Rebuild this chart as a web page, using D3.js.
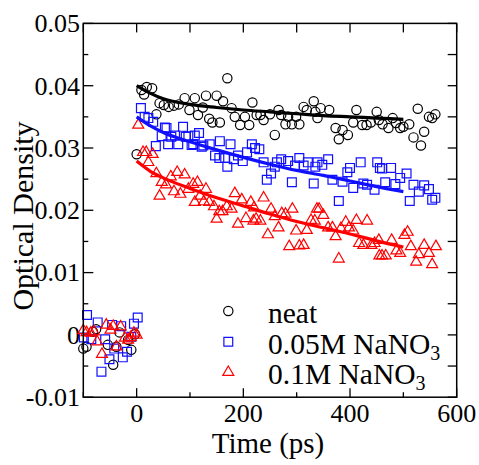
<!DOCTYPE html>
<html>
<head>
<meta charset="utf-8">
<script src="https://cdn.jsdelivr.net/npm/d3@7"></script>
<style>
  body { margin: 0; background: #fff; }
  svg text { font-family: "Liberation Serif", "Times New Roman", serif; fill: #000; }
  .frame { fill: none; stroke: #000; stroke-width: 1.5; }
  .tick-line { stroke: #000; stroke-width: 1.3; }
</style>
</head>
<body>
<div id="chart"></div>
<script>
// time (ps), optical density
var neat = [
  [-100, -0.0022], [-94, -0.0019], [-82, 0.0005], [-76, 0.0009], [-54, -0.0016], [-44, -0.0048],
  [-38, -0.0019], [-32, 0.0004], [-16, -0.0008], [-10, -0.0024], [-3, 0.0001],
  [0, 0.0290], [9, 0.0393], [14, 0.0386], [19, 0.0398], [29, 0.0396], [37, 0.0354], [43, 0.0372],
  [51, 0.0369], [60, 0.0366], [70, 0.0368], [79, 0.0370], [90, 0.0380], [99, 0.0361], [109, 0.0380],
  [115, 0.0353], [124, 0.0365], [130, 0.0384], [136, 0.0347], [142, 0.0341], [150, 0.0384],
  [156, 0.0341], [162, 0.0375], [170, 0.0412], [178, 0.0364], [184, 0.0350], [194, 0.0337],
  [203, 0.0350], [211, 0.0337], [217, 0.0373], [225, 0.0353], [232, 0.0353], [238, 0.0345],
  [250, 0.0354], [259, 0.0321], [266, 0.0361], [271, 0.0353], [279, 0.0338], [284, 0.0350],
  [291, 0.0338], [299, 0.0350], [305, 0.0338], [313, 0.0366], [319, 0.0361], [332, 0.0375],
  [335, 0.0358], [339, 0.0348], [345, 0.0364], [361, 0.0361], [373, 0.0332], [379, 0.0314],
  [386, 0.0329], [396, 0.0321], [406, 0.0341], [412, 0.0361], [423, 0.0337], [431, 0.0337],
  [439, 0.0341], [450, 0.0358], [454, 0.0345], [461, 0.0338], [472, 0.0332], [480, 0.0348],
  [486, 0.0340], [494, 0.0332], [500, 0.0334], [511, 0.0338], [519, 0.0317], [527, 0.0363],
  [533, 0.0304], [539, 0.0326], [548, 0.0350], [554, 0.0348], [560, 0.0354]
];
var nitrate005 = [
  [-99, -0.0004], [-93, 0.0032], [-85, -0.0007], [-73, 0.0020], [-66, -0.0059], [-59, -0.0007],
  [-51, -0.0039], [-46, 0.0016], [-42, -0.0022], [-29, 0.0014], [-26, -0.0036], [-18, -0.0027],
  [-10, -0.0003], [-5, 0.0018], [2, 0.0028],
  [8, 0.0364], [15, 0.0350], [22, 0.0348], [31, 0.0342], [36, 0.0303], [47, 0.0319], [53, 0.0333],
  [56, 0.0332], [59, 0.0306], [65, 0.0318], [72, 0.0320], [78, 0.0306], [87, 0.0334], [92, 0.0318],
  [97, 0.0319], [103, 0.0305], [106, 0.0306], [109, 0.0320], [117, 0.0324], [122, 0.0302],
  [125, 0.0304], [137, 0.0306], [147, 0.0288], [155, 0.0284], [156, 0.0311], [166, 0.0284],
  [170, 0.0270], [176, 0.0306], [182, 0.0282], [190, 0.0288], [199, 0.0279], [207, 0.0293],
  [216, 0.0306], [222, 0.0300], [230, 0.0298], [238, 0.0277], [244, 0.0249], [252, 0.0259],
  [259, 0.0270], [263, 0.0277], [271, 0.0282], [284, 0.0279], [291, 0.0245], [297, 0.0272],
  [305, 0.0284], [313, 0.0272], [321, 0.0277], [332, 0.0243], [335, 0.0270], [339, 0.0277],
  [348, 0.0273], [359, 0.0282], [367, 0.0249], [379, 0.0215], [386, 0.0246], [395, 0.0261],
  [400, 0.0268], [406, 0.0236], [420, 0.0277], [425, 0.0243], [432, 0.0241], [446, 0.0233],
  [451, 0.0277], [456, 0.0268], [460, 0.0267], [466, 0.0245], [477, 0.0268], [485, 0.0242],
  [494, 0.0252], [506, 0.0259], [512, 0.0215], [519, 0.0241], [529, 0.0230], [539, 0.0240],
  [548, 0.0234], [554, 0.0217], [560, 0.0220]
];
var nitrate01 = [
  [-100, 0.0007], [-94, 0.0004], [-86, 0.0003], [-80, 0.0005], [-74, -0.0011], [-65, -0.0031],
  [-57, 0.0016], [-49, 0.0008], [-44, 0.0014], [-38, -0.0019], [-30, 0.0013], [-22, -0.0005],
  [-16, -0.0008], [-11, -0.0004], [-5, 0.0003], [0, 0.0000],
  [3, 0.0337], [12, 0.0293], [18, 0.0293], [22, 0.0277], [30, 0.0290], [37, 0.0259], [43, 0.0223],
  [47, 0.0245], [55, 0.0241], [64, 0.0254], [70, 0.0230], [76, 0.0261], [82, 0.0226], [90, 0.0257],
  [97, 0.0234], [106, 0.0242], [109, 0.0213], [114, 0.0245], [119, 0.0223], [126, 0.0214],
  [130, 0.0234], [136, 0.0213], [145, 0.0206], [150, 0.0186], [155, 0.0198], [161, 0.0198],
  [169, 0.0206], [178, 0.0202], [184, 0.0227], [190, 0.0178], [197, 0.0217], [205, 0.0187],
  [214, 0.0213], [219, 0.0183], [220, 0.0204], [224, 0.0186], [232, 0.0183], [238, 0.0220],
  [246, 0.0161], [252, 0.0202], [259, 0.0190], [266, 0.0172], [272, 0.0195], [279, 0.0194],
  [286, 0.0142], [292, 0.0202], [299, 0.0167], [305, 0.0143], [313, 0.0144], [319, 0.0168],
  [327, 0.0184], [334, 0.0183], [338, 0.0202], [342, 0.0202], [350, 0.0192], [359, 0.0172],
  [367, 0.0172], [373, 0.0158], [379, 0.0122], [383, 0.0171], [392, 0.0181], [398, 0.0172],
  [406, 0.0167], [412, 0.0184], [417, 0.0147], [425, 0.0144], [432, 0.0183], [440, 0.0144],
  [446, 0.0147], [454, 0.0152], [455, 0.0127], [460, 0.0127], [467, 0.0127], [478, 0.0152],
  [487, 0.0135], [494, 0.0131], [502, 0.0160], [508, 0.0165], [514, 0.0142], [524, 0.0117],
  [529, 0.0129], [539, 0.0144], [548, 0.0131], [554, 0.0113], [561, 0.0142]
];

// fitted decays
var fitTimes = [0, 25, 50, 100, 150, 200, 250, 300, 350, 400, 450, 500];
var neatFit = [0.0400, 0.0388, 0.0379, 0.0370, 0.0365, 0.0361, 0.0358, 0.0355, 0.0352, 0.0350, 0.0348, 0.0346];
var nitrate005Fit = [0.0350, 0.0336, 0.0325, 0.0310, 0.0297, 0.0285, 0.0274, 0.0264, 0.0256, 0.0247, 0.0238, 0.0230];
var nitrate01Fit = [0.0279, 0.0263, 0.0252, 0.0235, 0.0220, 0.0207, 0.0194, 0.0182, 0.0172, 0.0162, 0.0151, 0.0141];

var xTicks = [-100, 0, 100, 200, 300, 400, 500, 600];
var xLabels = [0, 200, 400, 600];
var yTicks = [-0.01, -0.005, 0, 0.005, 0.01, 0.015, 0.02, 0.025, 0.03, 0.035, 0.04, 0.045, 0.05];
var yLabels = [-0.01, 0, 0.01, 0.02, 0.03, 0.04, 0.05];

var series = [
  { name: "neat", data: neat, fit: neatFit, color: "#000000", shape: "circle" },
  { name: "0.05M NaNO", data: nitrate005, fit: nitrate005Fit, color: "#1010ff", shape: "square" },
  { name: "0.1M NaNO", data: nitrate01, fit: nitrate01Fit, color: "#ff0000", shape: "triangle" }
];

var width = 479, height = 465;
var plotLeft = 83.3, plotRight = 456.7, plotTop = 23.4, plotBottom = 397.2;

var x = d3.scaleLinear().domain([-100, 600]).range([plotLeft, plotRight]);
var y = d3.scaleLinear().domain([-0.01, 0.05]).range([plotBottom, plotTop]);

var svg = d3.select("#chart").append("svg")
    .attr("width", width)
    .attr("height", height);

var fmtY = function (v) { return v === 0 ? "0" : d3.format(".2f")(v).replace("\u2212", "-"); };

// ticks, all pointing inward
var isXMajor = function (t) { return xLabels.indexOf(t) >= 0; };
var isYMajor = function (v) { return yLabels.some(function (l) { return Math.abs(l - v) < 1e-9; }); };

svg.selectAll(".xb").data(xTicks).enter().append("line")
    .attr("class", "tick-line")
    .attr("x1", function (d) { return x(d); }).attr("x2", function (d) { return x(d); })
    .attr("y1", plotBottom).attr("y2", function (d) { return plotBottom - (isXMajor(d) ? 9 : 5); });
svg.selectAll(".xt").data(xTicks).enter().append("line")
    .attr("class", "tick-line")
    .attr("x1", function (d) { return x(d); }).attr("x2", function (d) { return x(d); })
    .attr("y1", plotTop).attr("y2", plotTop + 9);
svg.selectAll(".yl").data(yTicks).enter().append("line")
    .attr("class", "tick-line")
    .attr("y1", function (d) { return y(d); }).attr("y2", function (d) { return y(d); })
    .attr("x1", plotLeft).attr("x2", function (d) { return plotLeft + (isYMajor(d) ? 10 : 5); });
svg.selectAll(".yr").data(yTicks).enter().append("line")
    .attr("class", "tick-line")
    .attr("y1", function (d) { return y(d); }).attr("y2", function (d) { return y(d); })
    .attr("x1", plotRight).attr("x2", plotRight - 9);

svg.selectAll(".xlab").data(xLabels).enter().append("text")
    .attr("x", function (d) { return x(d); })
    .attr("y", 422)
    .attr("text-anchor", "middle")
    .style("font-size", "26px")
    .text(function (d) { return d; });

svg.selectAll(".ylab").data(yLabels).enter().append("text")
    .attr("x", 80)
    .attr("y", function (d) { return y(d); })
    .attr("dy", "0.34em")
    .attr("text-anchor", "end")
    .style("font-size", "26px")
    .text(fmtY);

svg.append("text")
    .attr("x", 268)
    .attr("y", 453)
    .attr("text-anchor", "middle")
    .style("font-size", "29px")
    .text("Time (ps)");

svg.append("text")
    .attr("transform", "translate(33,216) rotate(-90)")
    .attr("text-anchor", "middle")
    .style("font-size", "30px")
    .text("Optical Density");

// markers
var symbolFor = {
  circle: d3.symbol(d3.symbolCircle, 68),
  square: d3.symbol(d3.symbolSquare, 78),
  triangle: d3.symbol(d3.symbolTriangle, 52)
};

var plot = svg.append("g");

series.forEach(function (s) {
  plot.selectAll(".pt-" + s.shape)
      .data(s.data)
    .enter().append("path")
      .attr("class", "pt-" + s.shape)
      .attr("d", symbolFor[s.shape])
      .attr("transform", function (d) { return "translate(" + x(d[0]) + "," + y(d[1]) + ")"; })
      .style("fill", "none")
      .style("stroke", s.color)
      .style("stroke-width", 1.2);
});

var line = d3.line()
    .x(function (d) { return x(d[0]); })
    .y(function (d) { return y(d[1]); })
    .curve(d3.curveMonotoneX);

series.forEach(function (s) {
  var pts = fitTimes.map(function (t, i) { return [t, s.fit[i]]; });
  plot.append("path")
      .datum(pts)
      .attr("d", line)
      .style("fill", "none")
      .style("stroke", s.color)
      .style("stroke-width", 3.2);
});

// frame
svg.append("rect")
    .attr("class", "frame")
    .attr("x", plotLeft).attr("y", plotTop)
    .attr("width", plotRight - plotLeft).attr("height", plotBottom - plotTop);

// legend
var legendY = [311, 341.7, 372.3];
var legend = svg.selectAll(".legend")
    .data(series)
  .enter().append("g")
    .attr("class", "legend");

legend.append("path")
    .attr("d", function (d) { return symbolFor[d.shape](); })
    .attr("transform", function (d, i) { return "translate(228.3," + legendY[i] + ")"; })
    .style("fill", "none")
    .style("stroke", function (d) { return d.color; })
    .style("stroke-width", 1.2);

var ltext = legend.append("text")
    .attr("x", 268)
    .attr("y", function (d, i) { return legendY[i] + 12; })
    .style("font-size", "29.5px")
    .text(function (d) { return d.name; });

ltext.filter(function (d) { return d.shape !== "circle"; })
  .append("tspan")
    .attr("dy", 6)
    .style("font-size", "20px")
    .text("3");
</script>
</body>
</html>
